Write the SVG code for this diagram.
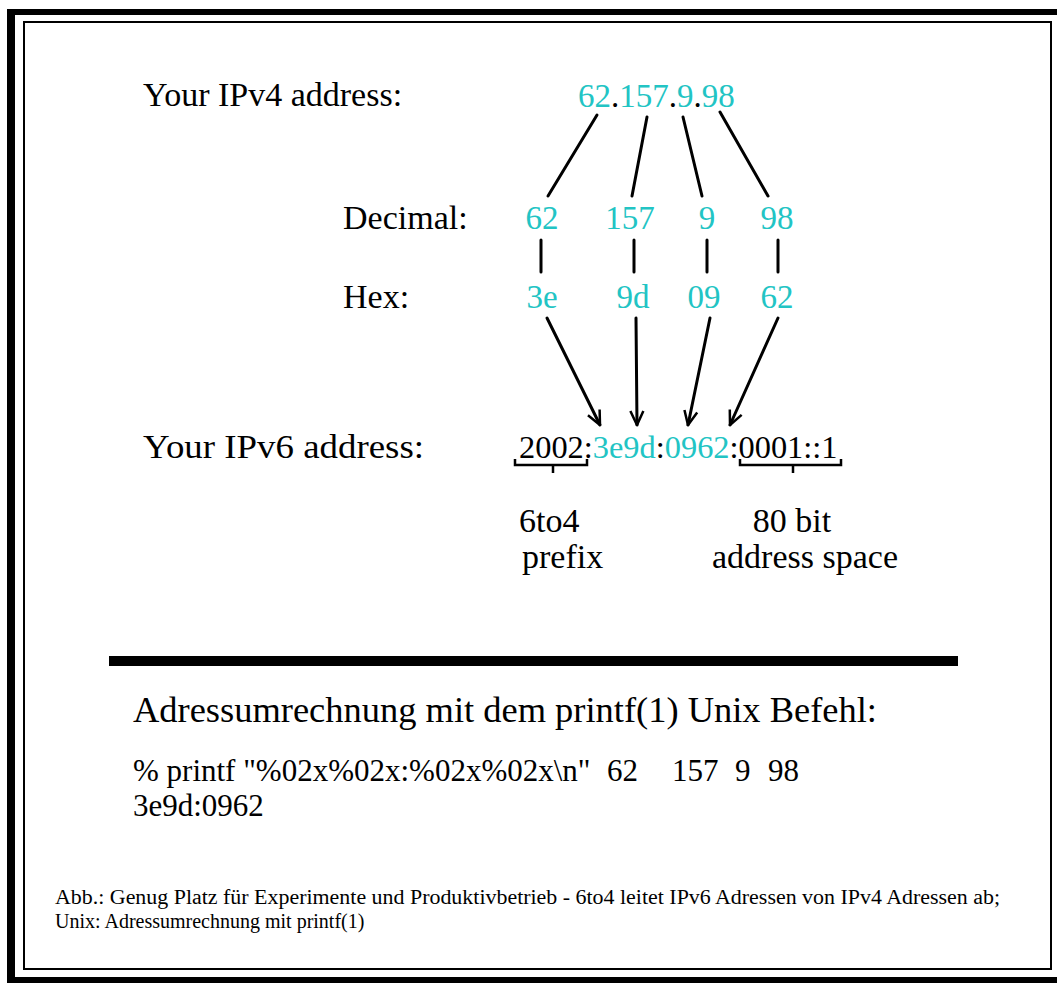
<svg xmlns="http://www.w3.org/2000/svg" width="1057" height="983" viewBox="0 0 1057 983">
<defs>
<style>
text{font-family:"Liberation Serif","Times New Roman",serif;fill:#000}
.lbl{font-size:34px}
.num{font-size:33px;fill:#22c4c4}
.cap{font-size:20px}
.bot{font-size:31px}
.ln{stroke:#000;stroke-width:3;fill:none;stroke-linecap:round}
.br{stroke:#000;stroke-width:2.5;fill:none}
</style>
<marker id="ah" viewBox="0 0 16 16" refX="15" refY="8" markerWidth="16" markerHeight="16" markerUnits="userSpaceOnUse" orient="auto">
<path d="M1,1.5 L15,8 L1,14.5" fill="none" stroke="#000" stroke-width="2.5"/>
</marker>
</defs>
<g id="frame">
<rect x="7" y="9" width="1050" height="974" fill="#000"/>
<rect x="15" y="15" width="1042" height="962" fill="#fff"/>
<rect x="24" y="22" width="1027" height="947" fill="none" stroke="#000" stroke-width="2"/>
<rect x="109" y="656" width="849" height="10" fill="#000"/>
</g>
<g id="ipv4">
<text class="lbl" x="143" y="106">Your IPv4 address:</text>
<text class="num" x="578" y="107">62<tspan fill="#000">.</tspan>157<tspan fill="#000">.</tspan>9<tspan fill="#000">.</tspan>98</text>
</g>
<g id="decimal">
<text class="lbl" x="343" y="229">Decimal:</text>
<text class="num" text-anchor="middle" x="542" y="229">62</text>
<text class="num" text-anchor="middle" x="630" y="229">157</text>
<text class="num" text-anchor="middle" x="707" y="229">9</text>
<text class="num" text-anchor="middle" x="777" y="229">98</text>
</g>
<g id="hex">
<text class="lbl" x="343" y="308">Hex:</text>
<text class="num" text-anchor="middle" x="542" y="308">3e</text>
<text class="num" text-anchor="middle" x="633" y="308">9d</text>
<text class="num" text-anchor="middle" x="704" y="308">09</text>
<text class="num" text-anchor="middle" x="777" y="308">62</text>
</g>
<g id="ipv6">
<text class="lbl" x="143" y="458" textLength="281" lengthAdjust="spacingAndGlyphs">Your IPv6 address:</text>
<text x="519" y="458" style="font-size:32.4px">2002:<tspan fill="#22c4c4">3e9d</tspan>:<tspan fill="#22c4c4">0962</tspan>:0001::1</text>
<path class="br" d="M515,459 V465 H587 V459 M553,465 V473"/>
<path class="br" d="M740,459 V465 H841 V459 M793,465 V473"/>
</g>
<g id="prefix">
<text class="lbl" x="519" y="532">6to4</text>
<text class="lbl" x="522" y="568">prefix</text>
</g>
<g id="space">
<text class="lbl" text-anchor="middle" x="792" y="532">80 bit</text>
<text class="lbl" x="712" y="568">address space</text>
</g>
<g id="connectors">
<line class="ln" x1="597" y1="115" x2="548" y2="196"/>
<line class="ln" x1="647" y1="117" x2="632" y2="196"/>
<line class="ln" x1="683" y1="117" x2="702" y2="196"/>
<line class="ln" x1="720" y1="112" x2="768" y2="196"/>
<line class="ln" x1="541" y1="240" x2="541" y2="272"/>
<line class="ln" x1="634" y1="240" x2="634" y2="272"/>
<line class="ln" x1="707" y1="240" x2="707" y2="272"/>
<line class="ln" x1="778" y1="240" x2="778" y2="272"/>
<line class="ln" x1="547" y1="318" x2="600" y2="425" marker-end="url(#ah)"/>
<line class="ln" x1="636" y1="318" x2="637" y2="425" marker-end="url(#ah)"/>
<line class="ln" x1="710" y1="318" x2="688" y2="425" marker-end="url(#ah)"/>
<line class="ln" x1="778" y1="318" x2="730" y2="425" marker-end="url(#ah)"/>
</g>
<g id="printf">
<text x="133" y="722" style="font-size:36px" textLength="744" lengthAdjust="spacingAndGlyphs">Adressumrechnung mit dem printf(1) Unix Befehl:</text>
<text class="bot" x="133" y="781">% printf "%02x%02x:%02x%02x\n"<tspan x="607">62</tspan><tspan x="672">157</tspan><tspan x="735">9</tspan><tspan x="768">98</tspan></text>
<text class="bot" x="133" y="816">3e9d:0962</text>
</g>
<g id="caption">
<text class="cap" x="55" y="904" textLength="945" lengthAdjust="spacingAndGlyphs">Abb.: Genug Platz für Experimente und Produktivbetrieb - 6to4 leitet IPv6 Adressen von IPv4 Adressen ab;</text>
<text class="cap" x="55" y="928">Unix: Adressumrechnung mit printf(1)</text>
</g>
</svg>
